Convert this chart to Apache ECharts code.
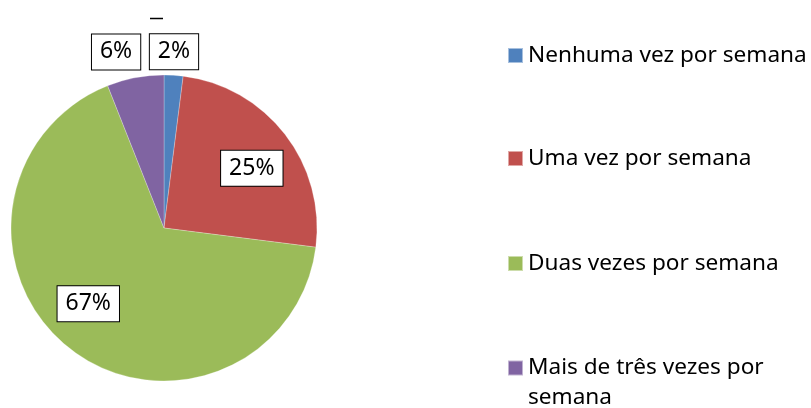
<!DOCTYPE html>
<html>
<head>
<meta charset="utf-8">
<script src="https://cdn.jsdelivr.net/npm/echarts@6/dist/echarts.min.js"></script>
<style>html,body{margin:0;padding:0;background:#fff}#c{width:811px;height:408px}</style>
</head>
<body>
<div id="c"></div>
<script>
const categories = ['Nenhuma vez por semana', 'Uma vez por semana', 'Duas vezes por semana', 'Mais de três vezes por semana'];
const values = [2, 25, 67, 6];
const colors = ['#4F81BD', '#C0504D', '#9BBB59', '#8064A2'];
const labelOffsets = [[5, -97], [25, -11], [-27, 13], [-33, -98]];
const legendTops = [40.5, 143.5, 248.5, 323];

const FONT = 'Noto Sans';
const chart = echarts.init(document.getElementById('c'));
const legends = categories.map((name, i) => ({
  data: [name],
  orient: 'vertical',
  left: 507,
  top: legendTops[i],
  padding: 0,
  itemWidth: 15,
  itemHeight: 15,
  itemGap: 0,
  icon: 'rect',
  selectedMode: false,
  formatter: n => n === 'Mais de três vezes por semana' ? '\nMais de três vezes por\nsemana' : n,
  textStyle: {fontFamily: FONT, fontSize: 22.6, color: '#000', lineHeight: 30}
}));
chart.setOption({
  animation: false,
  color: colors,
  legend: legends,
  graphic: [{
    type: 'line', shape: {x1: 150, y1: 18.5, x2: 163, y2: 18.5},
    style: {stroke: '#000', lineWidth: 1.5}, silent: true
  }],
  series: [{
    type: 'pie',
    center: [164, 228],
    radius: 153,
    startAngle: 90,
    clockwise: true,
    emphasis: {disabled: true},
    labelLine: {show: false},
    itemStyle: {borderColor: 'rgba(255,255,255,0.5)', borderWidth: 0.5},
    label: {
      show: true,
      position: 'inside',
      formatter: p => p.value + '%',
      fontFamily: FONT,
      fontSize: 23,
      color: '#000',
      backgroundColor: '#fff',
      borderColor: '#000',
      borderWidth: 1,
      padding: [5, 8],
      lineHeight: 25
    },
    data: categories.map((name, i) => ({name, value: values[i], label: {offset: labelOffsets[i]}}))
  }]
});
</script>
</body>
</html>
